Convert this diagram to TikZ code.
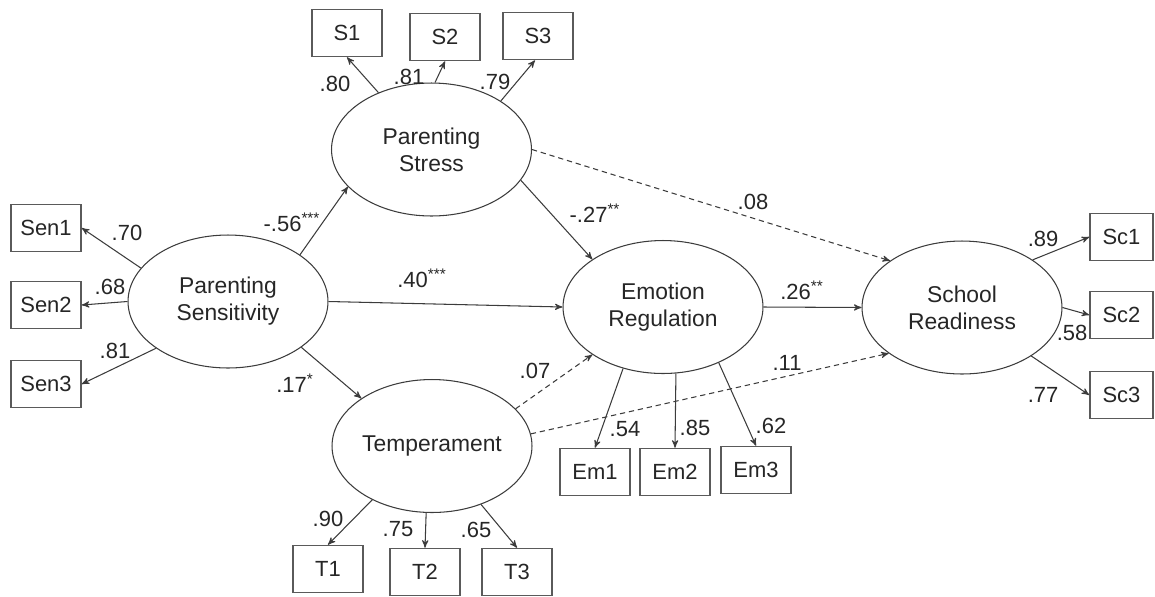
\documentclass[tikz,border=0pt]{standalone}
\usepackage{fontspec}
\setmainfont{Liberation Sans}
\usetikzlibrary{arrows, shapes.geometric}
\definecolor{linegray}{HTML}{3C3C3C}
\definecolor{boxgray}{HTML}{5A5A5A}
\tikzset{
>=stealth', % small solid arrow heads
every node/.style={font=\fontsize{12.5}{15.3}\selectfont, text=black!85}, % text as in the figure
latent/.style={ellipse, draw=linegray, line width=0.6pt, minimum width=4cm, minimum height=2.66cm, inner sep=0pt, align=center, font=\fontsize{13}{15.3}\selectfont}, % latent factors
observed/.style={rectangle, draw=boxgray, line width=0.9pt, minimum width=1.4cm, minimum height=0.94cm, inner sep=0pt}, % indicators
effect/.style={->, draw=linegray, line width=0.6pt}, % significant path
nseffect/.style={effect, dash pattern=on 3pt off 2.2pt}, % non significant path
coef/.style={inner sep=0pt}, % path coefficients
}

\begin{document}
\begin{tikzpicture}[x=0.02cm, y=-0.02cm]
                \useasboundingbox (0,0) rectangle (1155,596);
                \node[latent] (psens) at (228,301.5) {Parenting\\Sensitivity};
                \node[latent] (pstress) at (431.5,149.5) {Parenting\\Stress};
                \node[latent] (temp) at (432,446) {Temperament};
                \node[latent] (emo) at (663,307) {Emotion\\Regulation};
                \node[latent] (school) at (962,307.5) {School\\Readiness};
                \node[observed] (sen1) at (46,228) {Sen1};
                \node[observed] (sen2) at (46,305) {Sen2};
                \node[observed] (sen3) at (46,384) {Sen3};
                \node[observed] (s1) at (347,33) {S1};
                \node[observed] (s2) at (445,37) {S2};
                \node[observed] (s3) at (538,36) {S3};
                \node[observed] (t1) at (328,569) {T1};
                \node[observed] (t2) at (425,572) {T2};
                \node[observed] (t3) at (517,572) {T3};
                \node[observed] (em1) at (595,472) {Em1};
                \node[observed] (em2) at (675,472) {Em2};
                \node[observed] (em3) at (756,470) {Em3};
                \node[observed, minimum width=1.26cm] (sc1) at (1121.5,237) {Sc1};
                \node[observed, minimum width=1.26cm] (sc2) at (1121.5,315) {Sc2};
                \node[observed, minimum width=1.26cm] (sc3) at (1121.5,395) {Sc3};
                \draw
                    (psens.159) edge[effect] (sen1.east)
                    (psens.west) edge[effect] (sen2.east)
                    (psens.213) edge[effect] (sen3.east)
                    (psens.33) edge[effect] (pstress.204.5)
                    (psens.east) edge[effect] (emo.west)
                    (psens.328) edge[effect] (temp.146)
                    (pstress.133) edge[effect] (s1.south)
                    (pstress.87) edge[effect] (s2.south)
                    (pstress.35) edge[effect] ([xshift=-0.06cm]s3.south)
                    (pstress.341) edge[effect] (emo.146.5)
                    (pstress.east) edge[nseffect] (school.147.3)
                    (temp.24.6) edge[nseffect] (emo.214.4)
                    (temp.7.4) edge[nseffect] (school.212.9)
                    (emo.east) edge[effect] (school.west)
                    (temp.222.6) edge[effect] (t1.north)
                    (temp.265) edge[effect] (t2.north)
                    (temp.310.8) edge[effect] (t3.north)
                    (emo.237) edge[effect] (em1.north)
                    (emo.281) edge[effect] (em2.north)
                    (emo.315) edge[effect] (em3.north)
                    (school.34.3) edge[effect] (sc1.west)
                    (school.east) edge[effect] (sc2.west)
                    (school.325.7) edge[effect] (sc3.west)
                    ;
                \node[coef] (c70) at (127,233) {.70};
                \node[coef] (c68) at (110,287) {.68};
                \node[coef] (c81a) at (115,351) {.81};
                \node[coef] (c80) at (335,84) {.80};
                \node[coef] (c81b) at (409,77) {.81};
                \node[coef] (c79) at (495,82) {.79};
                \node[coef] (c56) at (292,222) {-.56\textsuperscript{***}};
                \node[coef] (c40) at (422,278) {.40\textsuperscript{***}};
                \node[coef] (c17) at (295,383) {.17\textsuperscript{*}};
                \node[coef] (c27) at (595,213) {-.27\textsuperscript{**}};
                \node[coef] (c08) at (753,202) {.08};
                \node[coef] (c26) at (802,290) {.26\textsuperscript{**}};
                \node[coef] (c07) at (535,371) {.07};
                \node[coef] (c11) at (787,363) {.11};
                \node[coef] (c54) at (625,429) {.54};
                \node[coef] (c85) at (695,428) {.85};
                \node[coef] (c62) at (771,426) {.62};
                \node[coef] (c90) at (328,519) {.90};
                \node[coef] (c75) at (398,529) {.75};
                \node[coef] (c65) at (476,530) {.65};
                \node[coef] (c89) at (1043,239) {.89};
                \node[coef] (c58) at (1072,333) {.58};
                \node[coef] (c77) at (1043,395) {.77};
                \end{tikzpicture}
\end{document}
